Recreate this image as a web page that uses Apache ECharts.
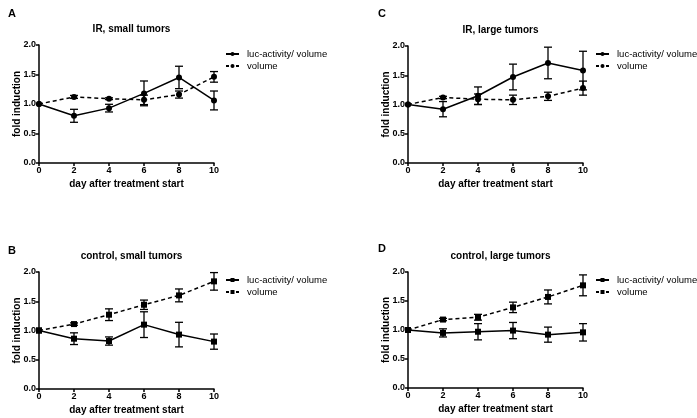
<!DOCTYPE html>
<html>
<head>
<meta charset="utf-8">
<script src="https://cdn.jsdelivr.net/npm/echarts@6/dist/echarts.min.js"></script>
<style>
html, body { margin: 0; padding: 0; background: #fff; }
#myChart { width: 697px; height: 418px; }
</style>
</head>
<body>
<div id="myChart"></div>
<script>
// 数据
const days = [0, 2, 4, 6, 8, 10]
const yTicks = [0, 0.5, 1.0, 1.5, 2.0]

// A: IR, small tumors
const aLuc = [1.0, 0.80, 0.93, 1.18, 1.45, 1.06]
const aLucErr = [0, 0.11, 0.065, 0.21, 0.19, 0.16]
const aVol = [1.0, 1.12, 1.09, 1.07, 1.16, 1.46]
const aVolErr = [0, 0.025, 0.015, 0.08, 0.06, 0.09]
// C: IR, large tumors
const cLuc = [1.0, 0.92, 1.15, 1.47, 1.71, 1.58]
const cLucErr = [0, 0.13, 0.15, 0.22, 0.27, 0.33]
const cVol = [1.0, 1.12, 1.09, 1.08, 1.14, 1.28]
const cVolErr = [0, 0.02, 0.09, 0.08, 0.07, 0.12]
// B: control, small tumors
const bLuc = [1.0, 0.86, 0.82, 1.10, 0.93, 0.81]
const bLucErr = [0, 0.10, 0.07, 0.22, 0.21, 0.13]
const bVol = [1.0, 1.11, 1.27, 1.44, 1.60, 1.84]
const bVolErr = [0, 0.02, 0.10, 0.08, 0.11, 0.15]
// D: control, large tumors
const dLuc = [1.0, 0.95, 0.97, 0.99, 0.92, 0.96]
const dLucErr = [0, 0.07, 0.14, 0.14, 0.13, 0.15]
const dVol = [1.0, 1.18, 1.22, 1.39, 1.57, 1.77]
const dVolErr = [0, 0.02, 0.05, 0.09, 0.12, 0.18]

const panels = [
    { letter: 'A', title: 'IR, small tumors', luc: aLuc, lucErr: aLucErr, vol: aVol, volErr: aVolErr, symbol: 'circle', suffix: '',
      grid: { left: 39, top: 45, width: 175, height: 118 }, letterPos: [3, 3], legendPos: [225, 48] },
    { letter: 'C', title: 'IR, large tumors', luc: cLuc, lucErr: cLucErr, vol: cVol, volErr: cVolErr, symbol: 'circle', suffix: '',
      grid: { left: 408, top: 46, width: 175, height: 117 }, letterPos: [373, 3], legendPos: [595, 48] },
    { letter: 'B', title: 'control, small tumors', luc: bLuc, lucErr: bLucErr, vol: bVol, volErr: bVolErr, symbol: 'rect', suffix: ' ',
      grid: { left: 39, top: 272, width: 175, height: 117 }, letterPos: [3, 240], legendPos: [225, 274] },
    { letter: 'D', title: 'control, large tumors', luc: dLuc, lucErr: dLucErr, vol: dVol, volErr: dVolErr, symbol: 'rect', suffix: ' ',
      grid: { left: 408, top: 272, width: 175, height: 116 }, letterPos: [373, 238], legendPos: [595, 274] }
]

const FONT = '"Liberation Sans", Arial, sans-serif'

let option = {
    backgroundColor: '#fff',
    animation: false,
    title: [],
    legend: [],
    grid: [],
    xAxis: [],
    yAxis: [],
    series: []
}

// 误差线
function errorBar(idx, means, errs, name) {
    return {
        type: 'custom',
        name: name + '_err',
        xAxisIndex: idx,
        yAxisIndex: idx,
        data: days.map((d, i) => [d, means[i] - errs[i], means[i] + errs[i]]),
        renderItem: function (params, api) {
            if (api.value(2) - api.value(1) < 1e-6) return
            let lo = api.coord([api.value(0), api.value(1)])
            let hi = api.coord([api.value(0), api.value(2)])
            let w = 4
            let st = { stroke: '#000', lineWidth: 1.3 }
            return {
                type: 'group',
                children: [
                    { type: 'line', shape: { x1: hi[0], y1: hi[1], x2: lo[0], y2: lo[1] }, style: st },
                    { type: 'line', shape: { x1: hi[0] - w, y1: hi[1], x2: hi[0] + w, y2: hi[1] }, style: st },
                    { type: 'line', shape: { x1: lo[0] - w, y1: lo[1], x2: lo[0] + w, y2: lo[1] }, style: st }
                ]
            }
        },
        z: 3
    }
}

panels.forEach((p, idx) => {
    let g = p.grid
    let lucName = 'luc-activity/ volume' + p.suffix
    let volName = 'volume' + p.suffix
    option.grid.push({ left: g.left, top: g.top, width: g.width, height: g.height })
    option.title.push({
        text: p.letter, left: p.letterPos[0], top: p.letterPos[1],
        textStyle: { fontFamily: FONT, fontSize: 11, fontWeight: 'bold', color: '#000' }
    })
    option.title.push({
        text: p.title, left: g.left + g.width / 2, top: g.top - 26, textAlign: 'center',
        textStyle: { fontFamily: FONT, fontSize: 10, fontWeight: 'bold', color: '#000' }
    })
    option.legend.push({
        orient: 'vertical',
        left: p.legendPos[0], top: p.legendPos[1] + 1,
        padding: 0,
        itemWidth: 13, itemHeight: 5, itemGap: 2,
        data: [
            { name: lucName },
            { name: volName, lineStyle: { type: [3, 7] } }
        ],
        formatter: n => n.trim(),
        textStyle: { fontFamily: FONT, fontSize: 9.5, color: '#000', padding: [0, 0, 0, 3] },
        selectedMode: false
    })
    option.xAxis.push({
        type: 'value', gridIndex: idx, min: 0, max: 10, interval: 2,
        name: 'day after treatment start', nameLocation: 'middle', nameGap: 16,
        nameTextStyle: { fontFamily: FONT, fontSize: 10, fontWeight: 'bold', color: '#000' },
        axisLine: { onZero: false, lineStyle: { color: '#000', width: 1.5 } },
        axisTick: { length: 3, lineStyle: { color: '#000', width: 1.5 } },
        axisLabel: { fontFamily: FONT, fontSize: 9, fontWeight: 'bold', color: '#000', margin: 3 },
        splitLine: { show: false }
    })
    option.yAxis.push({
        type: 'value', gridIndex: idx, min: yTicks[0], max: yTicks[yTicks.length - 1], interval: 0.5,
        name: 'fold induction', nameLocation: 'middle', nameGap: 17, nameRotate: 90,
        nameMoveOverlap: false,
        nameTextStyle: { fontFamily: FONT, fontSize: 10, fontWeight: 'bold', color: '#000' },
        axisLine: { show: true, onZero: false, lineStyle: { color: '#000', width: 1.5 } },
        axisTick: { show: true, length: 3, lineStyle: { color: '#000', width: 1.5 } },
        axisLabel: { fontFamily: FONT, fontSize: 9, fontWeight: 'bold', color: '#000', margin: 3,
            formatter: v => v.toFixed(1) },
        splitLine: { show: false }
    })
    option.series.push({
        name: lucName, type: 'line', xAxisIndex: idx, yAxisIndex: idx,
        data: days.map((d, i) => [d, p.luc[i]]),
        symbol: p.symbol, symbolSize: 6, showSymbol: true,
        lineStyle: { color: '#000', width: 1.5, type: 'solid' },
        itemStyle: { color: '#000' }, z: 4
    })
    option.series.push({
        name: volName, type: 'line', xAxisIndex: idx, yAxisIndex: idx,
        data: days.map((d, i) => [d, p.vol[i]]),
        symbol: p.symbol, symbolSize: 6, showSymbol: true,
        lineStyle: { color: '#000', width: 1.5, type: [4, 3] },
        itemStyle: { color: '#000' }, z: 4
    })
    option.series.push(errorBar(idx, p.luc, p.lucErr, lucName))
    option.series.push(errorBar(idx, p.vol, p.volErr, volName))
})

let myChart = echarts.init(document.getElementById('myChart'), null, { renderer: 'canvas' })
myChart.setOption(option)
window.addEventListener('resize', () => {
    myChart.resize()
})
</script>
</body>
</html>
